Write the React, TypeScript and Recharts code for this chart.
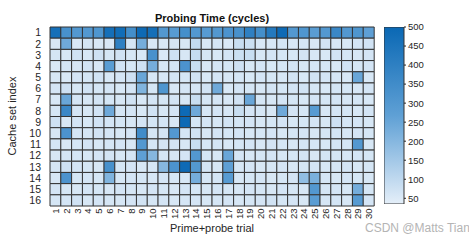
import React from "react"
import { BarChart, Bar, XAxis, YAxis, Cell } from "recharts"

// probing time (cycles) per cache set (row) and prime+probe trial (column)
const trials = Array.from({ length: 30 }, (_, i) => i + 1)
const cacheSets = Array.from({ length: 16 }, (_, i) => i + 1)

const set1 = [470, 330, 300, 300, 310, 470, 480, 340, 490, 470, 300, 290, 340, 300, 290, 300, 320, 330, 400, 340, 430, 490, 300, 310, 280, 300, 370, 300, 310, 270]
const set2 = [58, 240, 55, 65, 57, 55, 400, 62, 230, 55, 57, 65, 60, 95, 57, 62, 55, 85, 80, 57, 60, 65, 57, 62, 55, 66, 60, 57, 64, 70]
const set3 = [64, 60, 70, 57, 75, 62, 72, 60, 57, 330, 55, 75, 60, 90, 62, 57, 64, 80, 85, 60, 64, 62, 60, 66, 60, 57, 70, 62, 60, 64]
const set4 = [57, 64, 60, 66, 55, 280, 70, 62, 75, 230, 60, 64, 320, 85, 57, 64, 62, 75, 60, 64, 57, 62, 66, 60, 64, 62, 57, 70, 62, 64]
const set5 = [60, 57, 64, 62, 70, 57, 64, 75, 250, 60, 57, 64, 62, 70, 57, 64, 60, 62, 57, 64, 62, 60, 66, 57, 70, 64, 62, 60, 250, 57]
const set6 = [64, 75, 60, 70, 62, 64, 57, 64, 210, 62, 310, 60, 64, 62, 70, 240, 57, 64, 62, 60, 66, 62, 64, 70, 62, 57, 64, 62, 60, 64]
const set7 = [57, 250, 64, 60, 66, 62, 60, 70, 57, 64, 62, 66, 60, 85, 62, 64, 57, 70, 250, 62, 60, 64, 62, 57, 64, 62, 66, 60, 62, 57]
const set8 = [62, 370, 64, 60, 70, 240, 62, 64, 57, 70, 60, 64, 490, 240, 62, 64, 60, 85, 64, 62, 60, 240, 64, 62, 290, 60, 64, 62, 57, 64]
const set9 = [75, 60, 64, 57, 70, 64, 62, 60, 64, 62, 64, 60, 490, 62, 64, 60, 66, 62, 64, 60, 62, 64, 57, 62, 64, 60, 75, 62, 64, 60]
const set10 = [60, 320, 64, 62, 70, 64, 60, 64, 350, 62, 64, 300, 62, 70, 60, 64, 62, 64, 60, 62, 64, 60, 62, 64, 60, 62, 64, 60, 66, 62]
const set11 = [64, 60, 62, 66, 60, 62, 64, 60, 300, 62, 64, 66, 60, 85, 62, 64, 60, 62, 64, 60, 66, 62, 60, 64, 62, 60, 64, 62, 300, 60]
const set12 = [60, 64, 62, 60, 64, 66, 60, 64, 270, 200, 62, 60, 64, 300, 62, 60, 250, 64, 60, 62, 64, 60, 62, 66, 60, 64, 62, 60, 64, 62]
const set13 = [62, 75, 64, 62, 60, 330, 62, 64, 60, 62, 200, 320, 490, 300, 64, 60, 270, 62, 64, 60, 62, 64, 60, 62, 64, 60, 62, 64, 60, 62]
const set14 = [60, 320, 62, 64, 62, 210, 60, 64, 62, 60, 64, 62, 60, 230, 62, 64, 290, 60, 62, 64, 60, 62, 64, 180, 220, 62, 60, 64, 62, 60]
const set15 = [64, 62, 60, 64, 62, 60, 64, 62, 60, 64, 62, 60, 64, 62, 60, 64, 62, 60, 64, 62, 60, 64, 62, 60, 300, 62, 64, 60, 230, 62]
const set16 = [62, 64, 70, 60, 64, 62, 60, 64, 70, 62, 64, 60, 62, 64, 60, 62, 64, 60, 62, 64, 70, 62, 64, 60, 280, 62, 64, 60, 290, 64]

const rows = [set1, set2, set3, set4, set5, set6, set7, set8, set9, set10, set11, set12, set13, set14, set15, set16]

const colorTicks = [50, 100, 150, 200, 250, 300, 350, 400, 450, 500]
const cMin = 35
const cMax = 500

// light -> mid -> dark blue
const stops = [
  [229, 239, 249],
  [95, 160, 213],
  [10, 104, 180],
]

function valueColor(v: number) {
  let t = (v - cMin) / (cMax - cMin)
  t = Math.max(0, Math.min(1, t))
  const seg = t < 0.5 ? 0 : 1
  const f = t < 0.5 ? t / 0.5 : (t - 0.5) / 0.5
  const a = stops[seg]
  const b = stops[seg + 1]
  const c = a.map((x, i) => Math.round(x + (b[i] - x) * f))
  return `rgb(${c[0]},${c[1]},${c[2]})`
}

const gridData = trials.map((t) => {
  const row: Record<string, number> = { trial: t }
  cacheSets.forEach((s) => (row["s" + s] = 1))
  return row
})

const font = "'Liberation Sans', Arial, sans-serif"

const XTick = (props: any) => {
  const { x, y, payload } = props
  const ty = y + 2.5
  return (
    <text
      x={x}
      y={ty}
      transform={`rotate(-90, ${x}, ${ty})`}
      textAnchor="end"
      dominantBaseline="central"
      fontSize={9.5}
      fill="#262626"
      fontFamily={font}
    >
      {payload.value}
    </text>
  )
}

export default function App() {
  return (
    <div style={{ position: "absolute", left: 0, top: 0, width: 469, height: 242, background: "#fff", fontFamily: font }}>
      <BarChart
        width={469}
        height={242}
        data={gridData}
        margin={{ top: 27, right: 95, bottom: 16, left: 20 }}
        barCategoryGap={0}
        barGap={0}
      >
        <XAxis dataKey="trial" interval={0} tickLine={false} axisLine={false} tickSize={0} tickMargin={0} height={20} tick={<XTick />} />
        <YAxis
          type="number"
          domain={[0, 16]}
          reversed
          ticks={cacheSets.map((s) => s - 0.5)}
          tickFormatter={(v: number) => String(v + 0.5)}
          interval={0}
          width={30}
          tickLine={false}
          axisLine={false}
          tick={{ fontSize: 10.5, fill: "#262626", fontFamily: font }}
          tickMargin={3}
        />
        {cacheSets.map((s) => (
          <Bar key={s} dataKey={"s" + s} stackId="grid" stroke="#333" strokeWidth={1} isAnimationActive={false}>
            {trials.map((t, i) => (
              <Cell key={t} fill={valueColor(rows[s - 1][i])} />
            ))}
          </Bar>
        ))}
      </BarChart>

      <div style={{ position: "absolute", left: 384, top: 0 }}>
        <BarChart
          width={60}
          height={242}
          data={[{ k: "cb", v: [cMin, cMax] }]}
          margin={{ top: 27, right: 0, bottom: 38, left: 0 }}
          barCategoryGap={0}
        >
          <defs>
            <linearGradient id="cbGrad" x1="0" y1="0" x2="0" y2="1">
              <stop offset="0%" stopColor={valueColor(cMax)} />
              <stop offset="50%" stopColor={valueColor((cMin + cMax) / 2)} />
              <stop offset="100%" stopColor={valueColor(cMin)} />
            </linearGradient>
          </defs>
          <XAxis dataKey="k" hide />
          <YAxis
            orientation="right"
            type="number"
            domain={[cMin, cMax]}
            ticks={colorTicks}
            interval={0}
            width={40}
            axisLine={false}
            tickSize={2}
            tickLine={{ stroke: "#262626" }}
            tickMargin={2}
            tick={{ fontSize: 9.5, fill: "#262626", fontFamily: font }}
            allowDataOverflow
          />
          <Bar dataKey="v" fill="url(#cbGrad)" stroke="#333" strokeWidth={1} isAnimationActive={false} />
        </BarChart>
      </div>

      <div style={{ position: "absolute", left: 50, width: 324, top: 11, textAlign: "center", fontSize: 11, fontWeight: "bold", color: "#111", lineHeight: "14px" }}>
        Probing Time (cycles)
      </div>
      <div style={{ position: "absolute", left: 50, width: 324, top: 221, textAlign: "center", fontSize: 11, color: "#262626", lineHeight: "14px" }}>
        Prime+probe trial
      </div>
      <div
        style={{
          position: "absolute",
          left: 12,
          top: 116,
          transform: "translate(-50%, -50%) rotate(-90deg)",
          fontSize: 11,
          color: "#262626",
          whiteSpace: "nowrap",
          lineHeight: "14px",
        }}
      >
        Cache set index
      </div>
      <div style={{ position: "absolute", left: 365, top: 220, fontSize: 12, color: "#b4b4b4", whiteSpace: "nowrap", lineHeight: "16px" }}>
        CSDN @Matts Tian
      </div>
    </div>
  )
}
